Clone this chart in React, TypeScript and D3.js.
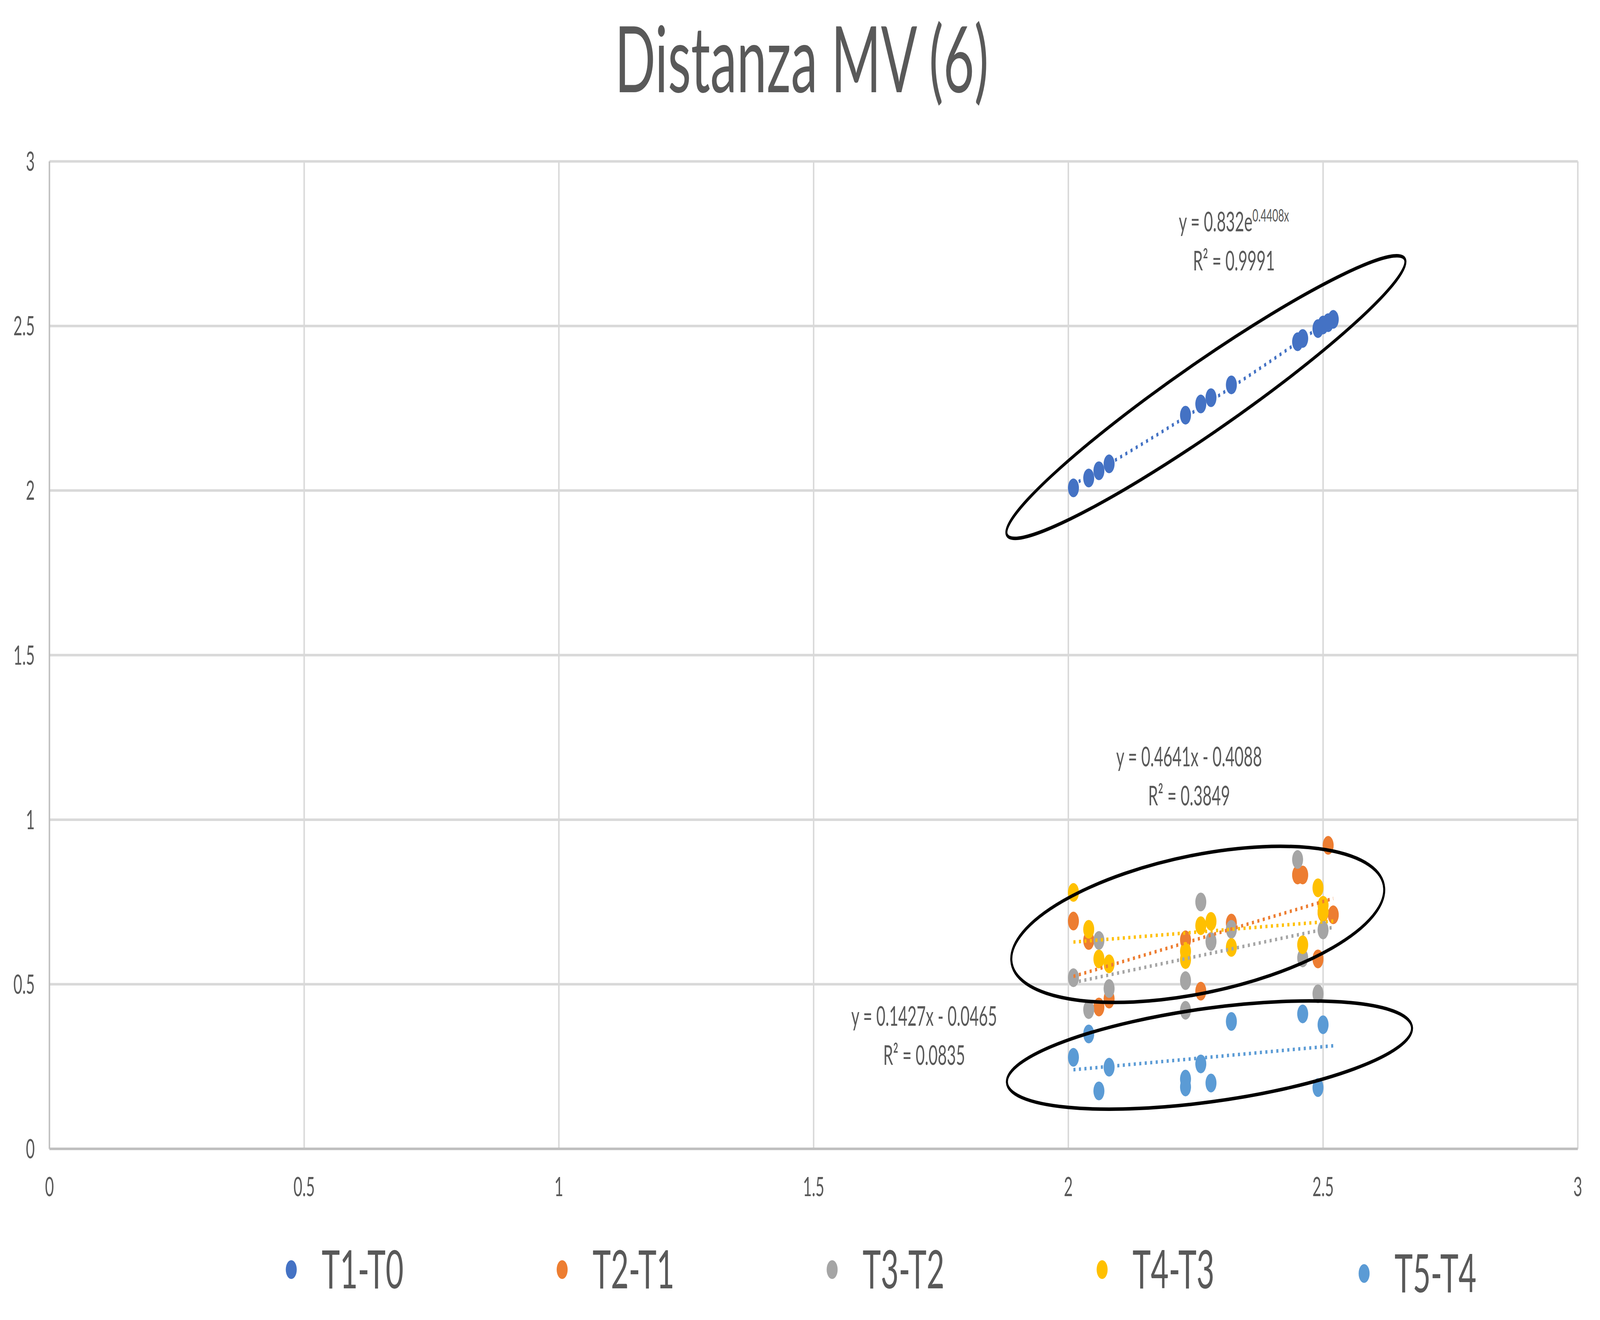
import { useEffect } from "react";
import * as d3 from "d3";

// series names + Excel default palette
const SERIES = ["T1-T0", "T2-T1", "T3-T2", "T4-T3", "T5-T4"];
const COLORS = ["#4472C4", "#ED7D31", "#A5A5A5", "#FFC000", "#5B9BD5"];

// values
const T1_T0_X = [2.01, 2.04, 2.06, 2.08, 2.23, 2.26, 2.28, 2.32, 2.45, 2.46, 2.49, 2.5, 2.51, 2.52];
const T1_T0_Y = [2.008, 2.038, 2.06, 2.081, 2.229, 2.263, 2.282, 2.321, 2.452, 2.462, 2.492, 2.503, 2.51, 2.52];

const T2_T1_X = [2.01, 2.04, 2.06, 2.08, 2.23, 2.26, 2.32, 2.45, 2.46, 2.49, 2.5, 2.51, 2.52];
const T2_T1_Y = [0.692, 0.633, 0.431, 0.455, 0.635, 0.479, 0.686, 0.832, 0.832, 0.577, 0.718, 0.922, 0.711];

const T3_T2_X = [2.01, 2.04, 2.06, 2.08, 2.23, 2.23, 2.26, 2.28, 2.32, 2.45, 2.46, 2.49, 2.5];
const T3_T2_Y = [0.52, 0.423, 0.633, 0.487, 0.511, 0.421, 0.75, 0.63, 0.667, 0.879, 0.58, 0.471, 0.665];

const T4_T3_X = [2.01, 2.04, 2.06, 2.08, 2.23, 2.23, 2.26, 2.28, 2.32, 2.46, 2.49, 2.5, 2.5];
const T4_T3_Y = [0.779, 0.667, 0.577, 0.562, 0.6, 0.575, 0.678, 0.691, 0.612, 0.62, 0.793, 0.74, 0.72];

const T5_T4_X = [2.01, 2.04, 2.06, 2.08, 2.23, 2.23, 2.26, 2.28, 2.32, 2.46, 2.49, 2.5];
const T5_T4_Y = [0.278, 0.349, 0.176, 0.248, 0.212, 0.188, 0.258, 0.2, 0.387, 0.41, 0.186, 0.377];

const SERIES_X = [T1_T0_X, T2_T1_X, T3_T2_X, T4_T3_X, T5_T4_X];
const SERIES_Y = [T1_T0_Y, T2_T1_Y, T3_T2_Y, T4_T3_Y, T5_T4_Y];

// trendlines: first one exponential (a * e^(b x)), the rest linear
const TREND_RANGE = [2.01, 2.52];
const EXP_A = 0.832;
const EXP_B = 0.4408;
const TREND_SLOPE = [0, 0.4641, 0.329, 0.125, 0.1427];
const TREND_INTERCEPT = [0, -0.4088, -0.156, 0.377, -0.0465];
const R2_LABELS = ["R² = 0.9991", "R² = 0.3849", "R² = 0.0835"];

const X_TICKS = [0, 0.5, 1, 1.5, 2, 2.5, 3];
const Y_TICKS = [0, 0.5, 1, 1.5, 2, 2.5, 3];

const TITLE = "Distanza MV (6)";

// equation labels: [x, y] of first baseline in data units
const EQ_POS = [
  [2.325, 2.787],
  [2.237, 1.162],
  [1.717, 0.374],
];

// hand-drawn ellipses around the clusters (center in data units)
const ELLIPSES = [
  { cx: 2.27, cy: 2.284, rx: 939, ry: 97, angle: -21.9 },
  { cx: 2.254, cy: 0.682, rx: 820, ry: 178, angle: -6.5 },
  { cx: 2.277, cy: 0.285, rx: 888, ry: 120, angle: -4.5 },
];

const W = 6993;
const H = 3378;
const FONT = "Lato, 'Open Sans', 'DejaVu Sans', sans-serif";
const TEXT = "#595959";
const LEGEND_X = [1273, 2457, 3637, 4817, 5962];

export default function App() {
  useEffect(() => {
    document.body.style.margin = "0";
    document.body.style.overflow = "hidden";
  }, []);

  const x = d3.scaleLinear().domain([0, 3]).range([216, 6896]);
  const y = d3.scaleLinear().domain([0, 3]).range([2940, 413]);

  const samples = d3.range(TREND_RANGE[0], TREND_RANGE[1] + 0.0001, 0.01);
  const line = d3
    .line<number[]>()
    .x((d) => x(d[0]))
    .y((d) => y(d[1]));

  const trendPath = (i: number) =>
    line(
      samples.map((v) => [
        v,
        i === 0 ? EXP_A * Math.exp(EXP_B * v) : TREND_SLOPE[i] * v + TREND_INTERCEPT[i],
      ])
    ) ?? "";

  const linEq = (i: number) =>
    "y = " + TREND_SLOPE[i] + "x - " + Math.abs(TREND_INTERCEPT[i]);

  return (
    <svg
      viewBox={`0 0 ${W} ${H}`}
      preserveAspectRatio="none"
      style={{ position: "fixed", left: 0, top: 0, width: "100vw", height: "100vh", display: "block" }}
      fontFamily={FONT}
    >
      <rect width={W} height={H} fill="#fff" />

      <text x={3504} y={236} textAnchor="middle" fontSize={234} fill={TEXT}>
        {TITLE}
      </text>

      {/* gridlines */}
      {Y_TICKS.filter((t) => t > 0).map((t) => (
        <line key={"gy" + t} x1={x(0)} x2={x(3)} y1={y(t)} y2={y(t)} stroke="#D9D9D9" strokeWidth={6.5} />
      ))}
      {X_TICKS.filter((t) => t > 0).map((t) => (
        <line key={"gx" + t} x1={x(t)} x2={x(t)} y1={y(0)} y2={y(3)} stroke="#D9D9D9" strokeWidth={6.5} />
      ))}
      {/* axes */}
      <line x1={x(0)} x2={x(0)} y1={y(0)} y2={y(3)} stroke="#BFBFBF" strokeWidth={6.5} />
      <line x1={x(0)} x2={x(3)} y1={y(0)} y2={y(0)} stroke="#BFBFBF" strokeWidth={6.5} />

      {Y_TICKS.map((t) => (
        <text key={"ly" + t} x={152} y={y(t)} dy="0.36em" textAnchor="end" fontSize={67} fill={TEXT}>
          {String(t)}
        </text>
      ))}
      {X_TICKS.map((t) => (
        <text key={"lx" + t} x={x(t)} y={3061} textAnchor="middle" fontSize={67} fill={TEXT}>
          {String(t)}
        </text>
      ))}

      {/* markers */}
      {SERIES.map((s, i) => (
        <g key={s} fill={COLORS[i]}>
          {SERIES_X[i].map((v, j) => (
            <circle key={j} cx={x(v)} cy={y(SERIES_Y[i][j])} r={24} />
          ))}
        </g>
      ))}

      {/* trendlines */}
      {SERIES.map((s, i) => (
        <path
          key={"t" + s}
          d={trendPath(i)}
          fill="none"
          stroke={COLORS[i]}
          strokeWidth={9}
          strokeDasharray="9 15"
        />
      ))}

      {/* equations */}
      <g fontSize={69} fill={TEXT} textAnchor="middle">
        <text x={x(EQ_POS[0][0])} y={y(EQ_POS[0][1])}>
          {"y = " + EXP_A + "e"}
          <tspan fontSize={44} dy={-25}>{EXP_B + "x"}</tspan>
        </text>
        <text x={x(EQ_POS[1][0])} y={y(EQ_POS[1][1])}>
          {linEq(1)}
        </text>
        <text x={x(EQ_POS[2][0])} y={y(EQ_POS[2][1])}>
          {linEq(4)}
        </text>
        {EQ_POS.map((p, i) => (
          <text key={"r2" + i} x={x(p[0])} y={y(p[1]) + 100}>
            {R2_LABELS[i]}
          </text>
        ))}
      </g>

      {/* ellipses */}
      {ELLIPSES.map((e, i) => {
        const cx = x(e.cx);
        const cy = y(e.cy);
        return (
          <ellipse
            key={"e" + i}
            cx={cx}
            cy={cy}
            rx={e.rx}
            ry={e.ry}
            transform={`rotate(${e.angle} ${cx} ${cy})`}
            fill="none"
            stroke="#000"
            strokeWidth={9}
          />
        );
      })}

      {/* legend */}
      {SERIES.map((s, i) => {
        const off = i === 4 ? 10 : 0;
        return (
          <g key={"lg" + s}>
            <circle cx={LEGEND_X[i]} cy={3249 + off} r={24} fill={COLORS[i]} />
            <text x={LEGEND_X[i] + 133} y={3297 + off} fontSize={135} fill={TEXT}>
              {s}
            </text>
          </g>
        );
      })}
    </svg>
  );
}
